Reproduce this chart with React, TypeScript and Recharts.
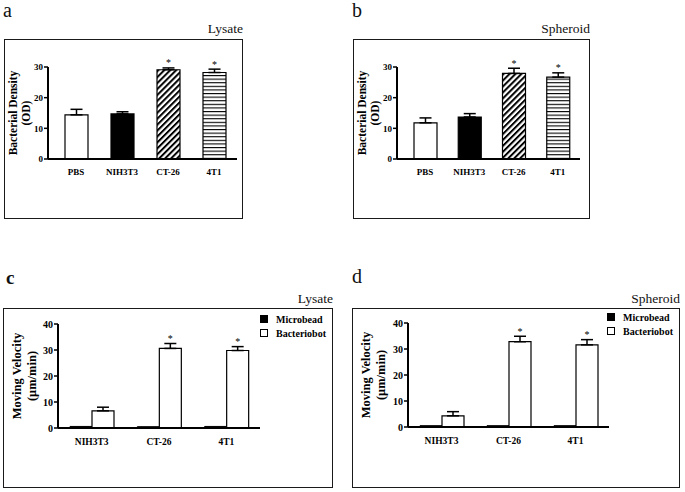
import React from "react";
import { BarChart, Bar, XAxis, YAxis, Cell, ErrorBar, Legend } from "recharts";

const FONT = '"Liberation Serif", "Times New Roman", serif';

// panels a / b
const densityGroups = ["PBS", "NIH3T3", "CT-26", "4T1"];
const lysateDensity = [14.4, 14.7, 29.1, 28.2];
const lysateDensityErr = [1.8, 0.7, 0.6, 1.1];
const spheroidDensity = [11.8, 13.7, 27.9, 26.7];
const spheroidDensityErr = [1.6, 1.1, 1.7, 1.4];
const densitySig = [false, false, true, true];
const densityTicks = [0, 10, 20, 30];

// panels c / d
const velocityGroups = ["NIH3T3", "CT-26", "4T1"];
const velocitySeries = ["Microbead", "Bacteriobot"];
const lysateMicrobead = [0.6, 0.5, 0.6];
const lysateBacteriobot = [6.6, 30.6, 29.8];
const lysateBacteriobotErr = [1.4, 1.9, 1.5];
const spheroidMicrobead = [0.5, 0.5, 0.5];
const spheroidBacteriobot = [4.3, 32.8, 31.6];
const spheroidBacteriobotErr = [1.6, 2.1, 2.0];
const velocitySig = [false, true, true];
const velocityTicks = [0, 10, 20, 30, 40];

type Box = { left: number; top: number; width: number; height: number };

const tickStyle = (size: number) => ({ fontFamily: FONT, fontWeight: "bold", fontSize: size, fill: "#000" });

// asterisk above the error bar, using the bar's own px-per-unit
const starLabel = (vals: number[], errs: number[], sig: boolean[]) => (props: any) => {
  const vb = props.viewBox || {};
  const x = props.x ?? vb.x;
  const y = props.y ?? vb.y;
  const width = props.width ?? vb.width;
  const height = props.height ?? vb.height;
  const i = props.index;
  if (i == null || !sig[i]) return null;
  const ppu = height / vals[i];
  const top = y - errs[i] * ppu;
  return (
    <text x={x + width / 2} y={top - 1.5} textAnchor="middle" fontFamily={FONT} fontSize={10} fill="#000">
      *
    </text>
  );
};

const yLabel = (lines: string[], xs: number[], size: number) => (props: any) => {
  const vb = props.viewBox;
  const cy = vb.y + vb.height / 2;
  return (
    <g>
      {lines.map((t, i) => (
        <text
          key={i}
          x={xs[i]}
          y={cy}
          transform={`rotate(-90 ${xs[i]} ${cy})`}
          textAnchor="middle"
          fontFamily={FONT}
          fontWeight="bold"
          fontSize={size}
          fill="#000"
        >
          {t}
        </text>
      ))}
    </g>
  );
};

function Frame({ box, children }: { box: Box; children: React.ReactNode }) {
  return (
    <div style={{ position: "absolute", left: box.left, top: box.top, width: box.width, height: box.height }}>
      {children}
      <div style={{ position: "absolute", inset: 0, border: "1.5px solid #1a1a1a", pointerEvents: "none" }} />
    </div>
  );
}

function Caption({ text, left, right, top, size, bold }: any) {
  return (
    <div
      style={{
        position: "absolute",
        left,
        right,
        top,
        fontSize: size,
        lineHeight: 1,
        fontFamily: FONT,
        fontWeight: bold ? "bold" : "normal",
        color: "#111",
        whiteSpace: "nowrap",
      }}
    >
      {text}
    </div>
  );
}

function DensityPanel({ id, box, values, errs, yWidth, right, padLeft }: any) {
  const data = densityGroups.map((name, i) => ({ name, value: values[i], err: [0, errs[i]] }));
  const fills = ["#fff", "#000", `url(#diag-${id})`, `url(#horiz-${id})`];
  return (
    <Frame box={box}>
      <BarChart width={box.width} height={box.height} data={data} margin={{ top: 28, right, bottom: 30, left: 0 }}>
        <defs>
          <pattern id={`diag-${id}`} patternUnits="userSpaceOnUse" width={4.2} height={4.2} patternTransform="rotate(45)">
            <rect width={4.2} height={4.2} fill="#fff" />
            <rect width={2} height={4.2} fill="#000" />
          </pattern>
          <pattern id={`horiz-${id}`} patternUnits="userSpaceOnUse" width={4} height={3.6}>
            <rect width={4} height={3.6} fill="#fff" />
            <rect width={4} height={1.1} fill="#000" />
          </pattern>
        </defs>
        <XAxis
          dataKey="name"
          tickLine={false}
          tickSize={0}
          tickMargin={10}
          padding={{ left: padLeft, right: 0 }}
          axisLine={{ stroke: "#000", strokeWidth: 2 }}
          tick={tickStyle(9)}
          interval={0}
        />
        <YAxis
          width={yWidth}
          domain={[0, 30]}
          ticks={densityTicks}
          tickSize={4}
          tickMargin={1}
          axisLine={{ stroke: "#000", strokeWidth: 2 }}
          tickLine={{ stroke: "#000", strokeWidth: 1.5 }}
          tick={tickStyle(9)}
          label={yLabel(["Bacterial Density", "(OD)"], [13, 25.5], 11.5)}
        />
        <Bar
          dataKey="value"
          barSize={23}
          stroke="#000"
          strokeWidth={1.2}
          isAnimationActive={false}
          label={starLabel(values, errs, densitySig)}
        >
          {data.map((d, i) => (
            <Cell key={`cell-${i}`} fill={fills[i]} />
          ))}
          <ErrorBar dataKey="err" width={6} stroke="#000" strokeWidth={1.5} isAnimationActive={false} />
        </Bar>
      </BarChart>
    </Frame>
  );
}

function VelocityPanel({ box, micro, bact, bactErr, top, yWidth, right, legendLeft, legendTop, labelXs }: any) {
  const data = velocityGroups.map((name, i) => ({
    name,
    microbead: micro[i],
    bacteriobot: bact[i],
    err: [0, bactErr[i]],
  }));
  return (
    <Frame box={box}>
      <BarChart
        width={box.width}
        height={box.height}
        data={data}
        margin={{ top, right, bottom: box.height - top - 134, left: 0 }}
        barGap={0}
      >
        <XAxis
          dataKey="name"
          tickLine={false}
          tickSize={0}
          tickMargin={10}
          axisLine={{ stroke: "#000", strokeWidth: 2 }}
          tick={tickStyle(9.5)}
          interval={0}
        />
        <YAxis
          width={yWidth}
          domain={[0, 40]}
          ticks={velocityTicks}
          tickSize={4}
          tickMargin={1}
          axisLine={{ stroke: "#000", strokeWidth: 2 }}
          tickLine={{ stroke: "#000", strokeWidth: 1.5 }}
          tick={tickStyle(10)}
          label={yLabel(["Moving Velocity", "(\u03bcm/min)"], labelXs, 12.5)}
        />
        <Legend
          layout="vertical"
          align="center"
          verticalAlign="middle"
          wrapperStyle={{ left: legendLeft, top: legendTop, width: 80 }}
          content={(p: any) => {
            const items = [...(p.payload || [])].sort(
              (a: any, b: any) => velocitySeries.indexOf(a.value) - velocitySeries.indexOf(b.value)
            );
            return (
              <div>
                {items.map((e: any) => (
                  <div key={e.value} style={{ display: "flex", alignItems: "center", height: 14 }}>
                    <span
                      style={{
                        width: 6,
                        height: 6,
                        border: "1px solid #000",
                        background: e.value === "Microbead" ? "#000" : "#fff",
                        marginRight: 8,
                      }}
                    />
                    <span style={{ fontFamily: FONT, fontWeight: "bold", fontSize: 10, color: "#000" }}>{e.value}</span>
                  </div>
                ))}
              </div>
            );
          }}
        />
        <Bar dataKey="microbead" name={velocitySeries[0]} barSize={22} fill="#000" stroke="#000" isAnimationActive={false} />
        <Bar
          dataKey="bacteriobot"
          name={velocitySeries[1]}
          barSize={22}
          fill="#fff"
          stroke="#000"
          strokeWidth={1.2}
          isAnimationActive={false}
          label={starLabel(bact, bactErr, velocitySig)}
        >
          <ErrorBar dataKey="err" width={6} stroke="#000" strokeWidth={1.5} isAnimationActive={false} />
        </Bar>
      </BarChart>
    </Frame>
  );
}

export default function App() {
  return (
    <div style={{ position: "absolute", left: 0, top: 0, width: 685, height: 492, background: "#fff", overflow: "hidden" }}>
      <Caption text="a" left={3} top={0} size={20} />
      <Caption text="Lysate" right={685 - 243} top={22} size={13.5} />
      <DensityPanel
        id="a"
        box={{ left: 4, top: 39, width: 239, height: 180 }}
        values={lysateDensity}
        errs={lysateDensityErr}
        yWidth={44}
        right={6}
        padLeft={5}
      />

      <Caption text="b" left={352} top={0} size={20} />
      <Caption text="Spheroid" right={685 - 590} top={22} size={13.5} />
      <DensityPanel
        id="b"
        box={{ left: 353, top: 39, width: 237, height: 180 }}
        values={spheroidDensity}
        errs={spheroidDensityErr}
        yWidth={44}
        right={10}
        padLeft={6}
      />

      <Caption text="c" left={6} top={268} size={19} bold />
      <Caption text="Lysate" right={685 - 333} top={292} size={13.5} />
      <VelocityPanel
        box={{ left: 3, top: 308, width: 330, height: 180 }}
        micro={lysateMicrobead}
        bact={lysateBacteriobot}
        bactErr={lysateBacteriobotErr}
        top={16}
        yWidth={55}
        right={73}
        legendLeft={257}
        legendTop={4}
        labelXs={[18, 33]}
      />

      <Caption text="d" left={352} top={266} size={20} />
      <Caption text="Spheroid" right={685 - 680} top={292} size={13.5} />
      <VelocityPanel
        box={{ left: 352, top: 308, width: 328, height: 180 }}
        micro={spheroidMicrobead}
        bact={spheroidBacteriobot}
        bactErr={spheroidBacteriobotErr}
        top={15}
        yWidth={56}
        right={71}
        legendLeft={255}
        legendTop={2}
        labelXs={[18, 33]}
      />
    </div>
  );
}
